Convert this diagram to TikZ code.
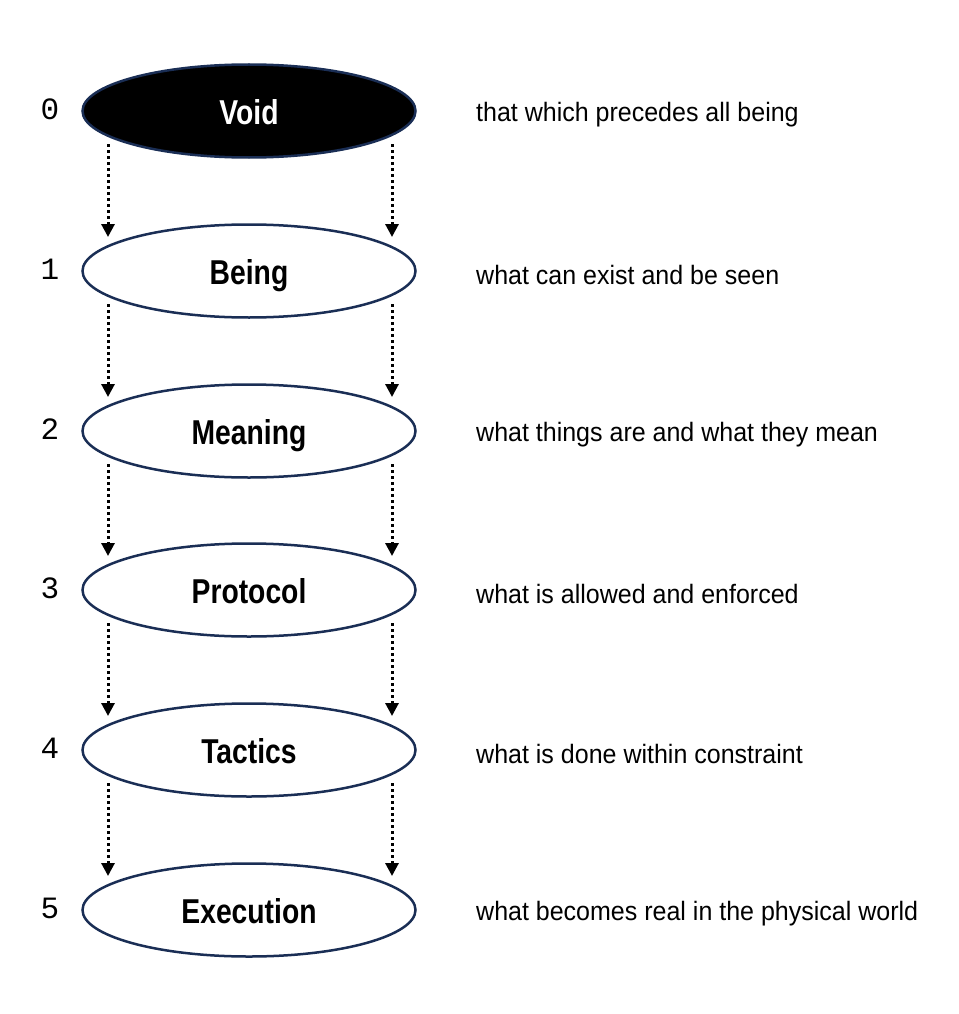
\documentclass[tikz,border=0pt]{standalone}
\usepackage{fontspec}
\setmainfont{Liberation Sans}
\newfontfamily\lblfont[FakeStretch=0.82]{Liberation Sans}
\newfontfamily\descfont[FakeStretch=0.94]{Liberation Sans}
\newfontfamily\numfont{Liberation Mono}
\usetikzlibrary{arrows.meta,shapes.geometric}
\definecolor{navy}{HTML}{1A2E55}
\begin{document}
\begin{tikzpicture}[x=1pt,y=1pt,
  layer/.style={ellipse, draw=navy, line width=2.5pt, fill=white, minimum width=333pt, minimum height=93pt, inner sep=0pt,
    text height=28pt, text depth=1pt,
    font=\lblfont\bfseries\fontsize{34.5}{36}\selectfont},
  voidlayer/.style={layer, fill=black, text=white},
  num/.style={font=\numfont\fontsize{31}{33}\selectfont, inner sep=0pt},
  desc/.style={anchor=west, font=\descfont\fontsize{26.6}{28}\selectfont, inner sep=0pt},
  flow/.style={line width=3pt, dash pattern=on 3pt off 3pt, -{Triangle[width=13pt,length=13pt]}}
]
\useasboundingbox (0,0) rectangle (958,-1014);
\node[voidlayer] (L0) at (249,-111) {Void};
\node[layer] (L1) at (249,-271) {Being};
\node[layer] (L2) at (249,-431) {Meaning};
\node[layer] (L3) at (249,-590) {Protocol};
\node[layer] (L4) at (249,-750) {Tactics};
\node[layer] (L5) at (249,-910) {Execution};
\foreach \i/\t in {0/that which precedes all being,1/what can exist and be seen,2/what things are and what they mean,3/what is allowed and enforced,4/what is done within constraint,5/what becomes real in the physical world}{
  \node[num] (n\i) at ([xshift=-199pt,yshift=2pt]L\i.center) {\i};
  \node[desc] (d\i) at ([xshift=227pt,yshift=-3.5pt]L\i.center) {\t};
}
\foreach \i/\j in {0/1,1/2,2/3,3/4,4/5}{
  \draw[flow] ([xshift=-141pt,yshift=-33pt]L\i.center) -- ([xshift=-141pt,yshift=34pt]L\j.center);
  \draw[flow] ([xshift=143pt,yshift=-33pt]L\i.center) -- ([xshift=143pt,yshift=34pt]L\j.center);
}
\end{tikzpicture}
\end{document}
